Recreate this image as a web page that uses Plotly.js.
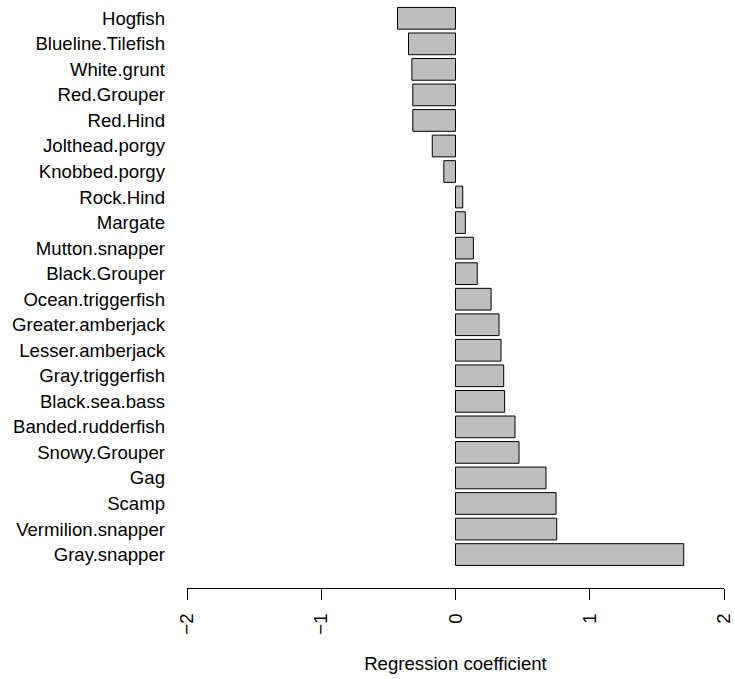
<!DOCTYPE html>
<html>
<head>
<meta charset="utf-8">
<script src="https://cdn.plot.ly/plotly-3.0.1.min.js"></script>
<style>
  html, body { margin: 0; padding: 0; background: #ffffff; }
  #chart { width: 735px; height: 679px; }
</style>
</head>
<body>
<div id="chart"></div>
<script>
// Species, listed top to bottom
const species = [
  "Hogfish", "Blueline.Tilefish", "White.grunt", "Red.Grouper", "Red.Hind",
  "Jolthead.porgy", "Knobbed.porgy", "Rock.Hind", "Margate", "Mutton.snapper",
  "Black.Grouper", "Ocean.triggerfish", "Greater.amberjack", "Lesser.amberjack",
  "Gray.triggerfish", "Black.sea.bass", "Banded.rudderfish", "Snowy.Grouper",
  "Gag", "Scamp", "Vermilion.snapper", "Gray.snapper"
];

// Regression coefficient per species
const coefficient = [
  -0.432, -0.35, -0.325, -0.318, -0.318,
  -0.173, -0.087, 0.054, 0.073, 0.133,
  0.162, 0.265, 0.324, 0.339,
  0.359, 0.366, 0.443, 0.473,
  0.674, 0.749, 0.754, 1.70
];

// Axis ticks
const xTickValues = [-2, -1, 0, 1, 2];
const xTickLabels = ["\u22122", "\u22121", "0", "1", "2"];
const xTitle = "Regression coefficient";

const FONT = "'Liberation Sans', Arial, Helvetica, sans-serif";
const SIZE = 18.6;

const trace = {
  type: "bar",
  orientation: "h",
  x: coefficient,
  y: species,
  marker: { color: "#bebebe", line: { color: "#000000", width: 1 } },
  hoverinfo: "x+y"
};

const layout = {
  width: 735,
  height: 679,
  margin: { l: 187, r: 11, t: 4, b: 91 },
  paper_bgcolor: "#ffffff",
  plot_bgcolor: "#ffffff",
  font: { family: FONT, size: SIZE, color: "#000000" },
  showlegend: false,
  bargap: 0.15,
  xaxis: {
    range: [-2, 2],
    tickmode: "array",
    tickvals: xTickValues,
    ticktext: xTickLabels,
    tickangle: -90,
    ticks: "outside",
    ticklen: 11,
    tickwidth: 1,
    tickcolor: "#000000",
    showline: true,
    linecolor: "#000000",
    linewidth: 1,
    showgrid: false,
    zeroline: false,
    ticklabelstandoff: 6,
    tickfont: { family: FONT, size: SIZE, color: "#000000" },
    title: { text: xTitle, font: { family: FONT, size: SIZE, color: "#000000" }, standoff: 23 },
    automargin: false
  },
  yaxis: {
    type: "category",
    range: [22.31, -0.56],
    ticks: "",
    showline: false,
    showgrid: false,
    zeroline: false,
    ticklabelstandoff: 21,
    tickfont: { family: FONT, size: SIZE, color: "#000000" },
    automargin: false
  }
};

Plotly.newPlot("chart", [trace], layout, { displayModeBar: false, staticPlot: true });
</script>
</body>
</html>
